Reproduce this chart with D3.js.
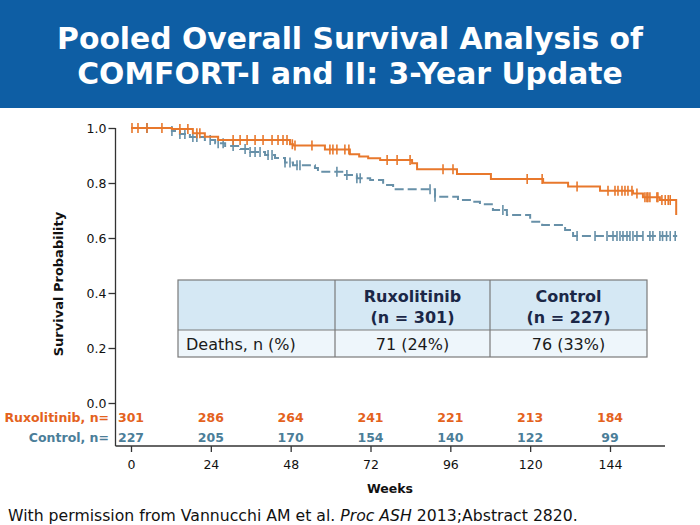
<!DOCTYPE html>
<html>
<head>
<meta charset="utf-8">
<script src="https://cdn.jsdelivr.net/npm/d3@7.9.0/dist/d3.min.js"></script>
<style>
  html, body { margin: 0; padding: 0; background: #fff; }
  svg { display: block; font-family: "DejaVu Sans", Verdana, sans-serif; }
</style>
</head>
<body>
<svg id="chart" width="700" height="525"></svg>
<script>
// ---- data ----
const weekTicks = [0, 24, 48, 72, 96, 120, 144];
const probTicks = [0, 0.2, 0.4, 0.6, 0.8, 1.0];

// Ruxolitinib KM steps (week, survival after the drop)
const ruxWeeks = [0, 12.3, 18.6, 22.2, 26.2, 47.8, 48.7, 58.3, 65.8, 68.6, 71.3, 74.9, 84.5, 86.0, 98.0, 108.2, 123.9, 131.4, 141.0, 150.9, 153.9, 159.0, 163.9];
const ruxSurv  = [1.0, 0.996, 0.981, 0.968, 0.956, 0.941, 0.936, 0.922, 0.905, 0.896, 0.890, 0.884, 0.872, 0.850, 0.833, 0.815, 0.801, 0.787, 0.772, 0.762, 0.748, 0.738, 0.684];
const ruxCensored = [0.3, 2.1, 4.8, 9.3, 14.7, 17.1, 19.8, 20.7, 30.7, 32.8, 34.9, 37.3, 39.7, 42.4, 44.2, 45.7, 46.9, 48.5, 49.3, 54.4, 59.8, 60.7, 61.9, 64.3, 65.5, 77.0, 80.0, 83.9, 93.8, 96.8, 119.1, 123.6, 134.1, 143.4, 145.5, 146.4, 147.6, 148.5, 149.4, 150.6, 152.1, 154.5, 155.1, 155.4, 156.0, 158.1, 158.4, 159.6, 160.6, 161.5, 162.1];

// Control KM steps
const ctlWeeks = [0, 12.3, 14.7, 17.7, 22.2, 25.3, 28.3, 32.8, 35.8, 40.3, 43.3, 46.3, 48.7, 55.3, 56.2, 64.3, 67.9, 71.9, 75.8, 78.8, 91.4, 98.3, 102.8, 104.9, 108.8, 113.0, 120.0, 123.6, 130.5, 132.9, 164.2];
const ctlSurv  = [1.0, 0.989, 0.978, 0.967, 0.956, 0.945, 0.935, 0.924, 0.913, 0.902, 0.891, 0.875, 0.865, 0.855, 0.841, 0.829, 0.817, 0.811, 0.793, 0.777, 0.750, 0.738, 0.732, 0.723, 0.702, 0.684, 0.659, 0.647, 0.629, 0.607, 0.607];
const ctlCensored = [4.8, 12.3, 14.7, 16.2, 18.6, 19.8, 23.8, 26.2, 27.7, 30.7, 34.3, 35.8, 37.3, 38.8, 41.2, 42.4, 46.3, 47.8, 49.9, 50.8, 61.9, 64.9, 67.9, 68.9, 89.9, 91.4, 111.8, 134.1, 139.5, 143.1, 144.9, 146.1, 147.0, 147.9, 149.1, 150.0, 150.9, 152.1, 153.9, 156.0, 156.9, 159.0, 159.8, 161.0, 162.1, 163.6];

// numbers at risk
const ruxAtRisk = [301, 286, 264, 241, 221, 213, 184];
const ctlAtRisk = [227, 205, 170, 154, 140, 122, 99];

// summary table
const tableHead = ['', 'Ruxolitinib|(n = 301)', 'Control|(n = 227)'];
const tableRow = ['Deaths, n (%)', '71 (24%)', '76 (33%)'];

const ruxColor = '#e8782c';
const ctlColor = '#6790a8';
const ruxText = '#e4621d';
const ctlText = '#4b7e99';

const svg = d3.select('#chart');

// ---- header band ----
svg.append('rect').attr('x', 0).attr('y', 0).attr('width', 700).attr('height', 108).attr('fill', '#0e5ea4');
const titleLines = ['Pooled Overall Survival Analysis of', 'COMFORT-I and II: 3-Year Update'];
const t1 = svg.append('text').attr('x', 350).attr('y', 48.5).attr('text-anchor', 'middle')
  .attr('fill', '#fff').attr('font-weight', 'bold').attr('font-size', 30).text(titleLines[0]);
// fit title width to the slide
const fs = 30 * 586 / t1.node().getComputedTextLength();
t1.attr('font-size', fs);
svg.append('text').attr('x', 350).attr('y', 83.5).attr('text-anchor', 'middle')
  .attr('fill', '#fff').attr('font-weight', 'bold').attr('font-size', fs).text(titleLines[1]);

// ---- scales ----
const x = d3.scaleLinear().domain([0, 144]).range([131, 610]);
const y = d3.scaleLinear().domain([0, 1]).range([403, 128]);

const axisColor = '#333';

// y axis
svg.append('line').attr('x1', 115.5).attr('x2', 115.5).attr('y1', y(1)).attr('y2', 446)
  .attr('stroke', axisColor).attr('stroke-width', 1.3);
const yAxis = svg.append('g').attr('transform', 'translate(115.5,0)')
  .call(d3.axisLeft(y).tickValues(probTicks).tickFormat(d3.format('.1f')).tickSize(7).tickPadding(2));
yAxis.select('.domain').remove();
yAxis.selectAll('line').attr('stroke', axisColor).attr('stroke-width', 1.3);
yAxis.selectAll('text').attr('font-size', 12.5).attr('fill', '#111').attr('font-family', 'DejaVu Sans');

svg.append('text').attr('transform', 'translate(63,284) rotate(-90)').attr('text-anchor', 'middle')
  .attr('font-weight', 'bold').attr('font-size', 13).attr('fill', '#111').text('Survival Probability');

// x axis
svg.append('line').attr('x1', 115.5).attr('x2', 665).attr('y1', 446).attr('y2', 446)
  .attr('stroke', axisColor).attr('stroke-width', 1.3);
const xAxis = svg.append('g').attr('transform', 'translate(0,446)')
  .call(d3.axisBottom(x).tickValues(weekTicks).tickSize(6).tickPadding(8));
xAxis.select('.domain').remove();
xAxis.selectAll('line').attr('stroke', axisColor).attr('stroke-width', 1.3);
xAxis.selectAll('text').attr('font-size', 12.5).attr('fill', '#111').attr('font-family', 'DejaVu Sans');

svg.append('text').attr('x', 390).attr('y', 493).attr('text-anchor', 'middle')
  .attr('font-weight', 'bold').attr('font-size', 12.5).attr('fill', '#111').text('Weeks');

// ---- KM curves ----
function survAt(weeks, surv, t) {
  let s = surv[0];
  for (let i = 0; i < weeks.length; i++) if (weeks[i] <= t) s = surv[i];
  return s;
}
const line = d3.line().x(d => x(d[0])).y(d => y(d[1])).curve(d3.curveStepAfter);

function drawArm(weeks, surv, censored, color, dash) {
  const g = svg.append('g');
  g.append('path').datum(d3.zip(weeks, surv)).attr('d', line)
    .attr('fill', 'none').attr('stroke', color).attr('stroke-width', 2)
    .attr('stroke-dasharray', dash);
  g.selectAll('line.c').data(censored).join('line').attr('class', 'c')
    .attr('x1', d => x(d)).attr('x2', d => x(d))
    .attr('y1', d => y(survAt(weeks, surv, d)) - 5)
    .attr('y2', d => y(survAt(weeks, surv, d)) + 5)
    .attr('stroke', color).attr('stroke-width', 1.6);
}
drawArm(ctlWeeks, ctlSurv, ctlCensored, ctlColor, '9,4');
drawArm(ruxWeeks, ruxSurv, ruxCensored, ruxColor, null);

// ---- numbers at risk ----
function riskRow(label, vals, yPos, color) {
  svg.append('text').attr('x', 109).attr('y', yPos).attr('text-anchor', 'end')
    .attr('font-weight', 'bold').attr('font-size', 12.5).attr('fill', color).text(label);
  svg.selectAll(null).data(vals).join('text')
    .attr('x', (d, i) => x(weekTicks[i])).attr('y', yPos).attr('text-anchor', 'middle')
    .attr('font-weight', 'bold').attr('font-size', 12.5).attr('fill', color).text(d => d);
}
riskRow('Ruxolitinib, n=', ruxAtRisk, 422, ruxText);
riskRow('Control, n=', ctlAtRisk, 442, ctlText);

// ---- summary table ----
const colX = [178, 335, 490, 647];
const rowY = [280, 330, 357];
const tbl = svg.append('g');
tbl.append('rect').attr('x', colX[0]).attr('y', rowY[0]).attr('width', colX[3] - colX[0]).attr('height', rowY[1] - rowY[0]).attr('fill', '#d5e8f4');
tbl.append('rect').attr('x', colX[0]).attr('y', rowY[1]).attr('width', colX[3] - colX[0]).attr('height', rowY[2] - rowY[1]).attr('fill', '#eef6fb');
tbl.append('rect').attr('x', colX[0]).attr('y', rowY[0]).attr('width', colX[3] - colX[0]).attr('height', rowY[2] - rowY[0])
  .attr('fill', 'none').attr('stroke', '#7a7a7a').attr('stroke-width', 1.2);
tbl.append('line').attr('x1', colX[0]).attr('x2', colX[3]).attr('y1', rowY[1]).attr('y2', rowY[1]).attr('stroke', '#7a7a7a').attr('stroke-width', 1.2);
[colX[1], colX[2]].forEach(cx => tbl.append('line').attr('x1', cx).attr('x2', cx).attr('y1', rowY[0]).attr('y2', rowY[2]).attr('stroke', '#7a7a7a').attr('stroke-width', 1.2));

tableHead.forEach((h, i) => {
  if (!h) return;
  const cx = (colX[i] + colX[i + 1]) / 2;
  h.split('|').forEach((ln, j) => {
    tbl.append('text').attr('x', cx).attr('y', 302 + j * 21).attr('text-anchor', 'middle')
      .attr('font-weight', 'bold').attr('font-size', 16).attr('fill', '#1b2747').text(ln);
  });
});
tableRow.forEach((c, i) => {
  const cx = i === 0 ? colX[0] + 8 : (colX[i] + colX[i + 1]) / 2;
  tbl.append('text').attr('x', cx).attr('y', 350).attr('text-anchor', i === 0 ? 'start' : 'middle')
    .attr('font-size', 16).attr('fill', '#1a1a1a').text(c);
});

// ---- footer ----
const foot = svg.append('text').attr('x', 8).attr('y', 521).attr('font-size', 14).attr('fill', '#111');
foot.append('tspan').text('With permission from Vannucchi AM et al. ');
foot.append('tspan').attr('font-style', 'italic').text('Proc ASH');
foot.append('tspan').text(' 2013;Abstract 2820.');
foot.attr('font-size', 14 * 570 / foot.node().getComputedTextLength());
</script>
</body>
</html>
